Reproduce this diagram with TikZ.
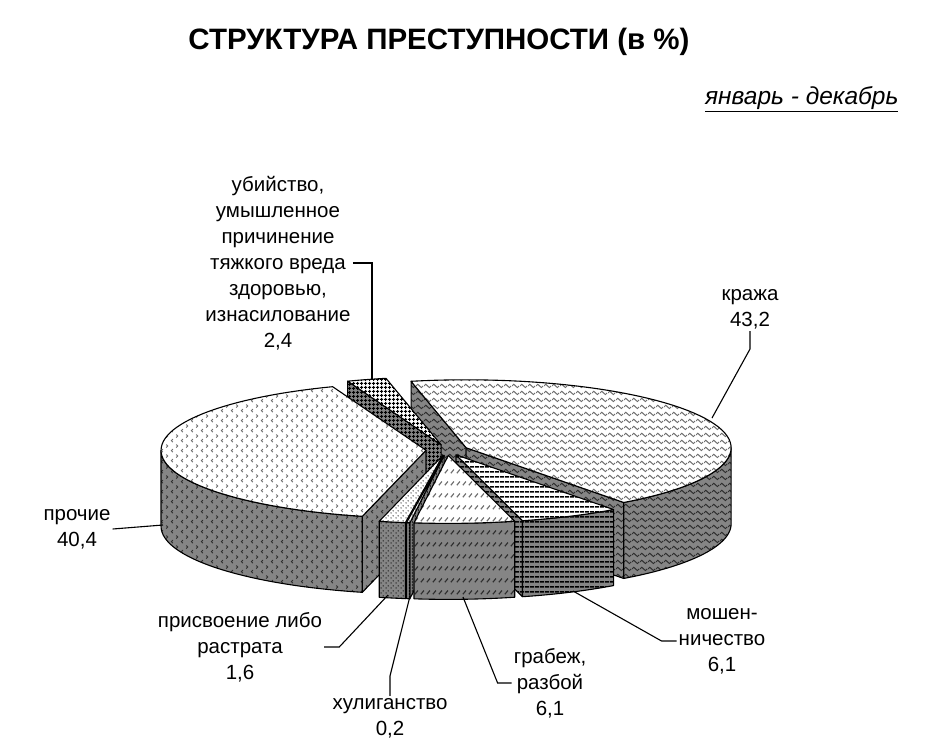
\documentclass[tikz,border=0pt]{standalone}
\usepackage{fontspec}
\setmainfont{Liberation Sans}
\usetikzlibrary{patterns.meta}

\definecolor{sidegray}{HTML}{858585}
\definecolor{patdark}{HTML}{2E2E2E}
\definecolor{patlight}{HTML}{6E6E6E}

\tikzdeclarepattern{
  name=pwave, type=uncolored,
  bounding box={(0pt,0pt) and (8pt,7pt)},
  tile size={(8pt,7pt)},
  code={\draw[line width=1.1pt] (0pt,3.5pt) .. controls (2pt,6pt) and (2pt,6pt) .. (4pt,3.5pt) .. controls (6pt,1pt) and (6pt,1pt) .. (8pt,3.5pt);}
}
\tikzdeclarepattern{
  name=pdivot, type=uncolored,
  bounding box={(0pt,0pt) and (10pt,10pt)},
  tile size={(10pt,10pt)},
  code={\draw[line width=1pt] (3.2pt,1pt) -- (1.5pt,2.6pt) -- (3.2pt,4.2pt);
        \draw[line width=1pt] (6.8pt,6pt) -- (8.5pt,7.6pt) -- (6.8pt,9.2pt);}
}
\tikzdeclarepattern{
  name=pdash, type=uncolored,
  bounding box={(0pt,0pt) and (6pt,12pt)},
  tile size={(6pt,12pt)},
  code={\draw[line width=1.3pt] (1pt,4pt) -- (4.5pt,8pt);}
}
\tikzdeclarepattern{
  name=phoriz, type=uncolored,
  bounding box={(0pt,0pt) and (5pt,5pt)},
  tile size={(5pt,5pt)},
  code={\draw[line width=1.6pt] (0pt,2.5pt) -- (5pt,2.5pt);}
}
\tikzdeclarepattern{
  name=pgrid, type=uncolored,
  bounding box={(0pt,0pt) and (4pt,4pt)},
  tile size={(4pt,4pt)},
  code={\draw[line width=1pt] (0pt,2pt) -- (4pt,2pt) (2pt,0pt) -- (2pt,4pt);}
}
\tikzdeclarepattern{
  name=pdots, type=uncolored,
  bounding box={(0pt,0pt) and (5pt,5pt)},
  tile size={(5pt,5pt)},
  code={\fill (1.25pt,1.25pt) circle (0.9pt) (3.75pt,3.75pt) circle (0.9pt);}
}
\tikzdeclarepattern{
  name=pvert, type=uncolored,
  bounding box={(0pt,0pt) and (3pt,3pt)},
  tile size={(3pt,3pt)},
  code={\draw[line width=1pt] (1.5pt,0pt) -- (1.5pt,3pt);}
}

\tikzset{
  edge/.style={draw=black, line width=1.1pt, line join=round},
  topK/.style={edge, preaction={fill=white}, pattern=pwave, pattern color=patlight},
  topM/.style={edge, preaction={fill=white}, pattern=phoriz, pattern color=black},
  topG/.style={edge, preaction={fill=white}, pattern=pdash, pattern color=patlight},
  topH/.style={edge, preaction={fill=white}, pattern=pvert, pattern color=patlight},
  topR/.style={edge, preaction={fill=white}, pattern=pdots, pattern color=patlight},
  topP/.style={edge, preaction={fill=white}, pattern=pdivot, pattern color=patlight},
  topU/.style={edge, preaction={fill=white}, pattern=pgrid, pattern color=black},
  sideK/.style={edge, preaction={fill=sidegray}, pattern=pwave, pattern color=patdark},
  sideM/.style={edge, preaction={fill=sidegray}, pattern=phoriz, pattern color=black},
  sideG/.style={edge, preaction={fill=sidegray}, pattern=pdash, pattern color=patdark},
  sideH/.style={edge, preaction={fill=sidegray}, pattern=pvert, pattern color=black},
  sideR/.style={edge, preaction={fill=sidegray}, pattern=pdots, pattern color=patdark},
  sideP/.style={edge, preaction={fill=sidegray}, pattern=pdivot, pattern color=patdark},
  sideU/.style={edge, preaction={fill=sidegray}, pattern=pgrid, pattern color=black},
  lbl/.style={align=center, font=\fontsize{20.5}{26}\selectfont, inner sep=2pt},
  leader/.style={draw=black, line width=1.1pt},
}

\newcommand\slc[2]{%
  \pgfmathsetmacro\pmd{(#1+#2)/2}%
  \pgfmathsetmacro\pox{\pcx+\pex*cos(\pmd)}%
  \pgfmathsetmacro\poy{\pcy-\pex*\pry/\prx*sin(\pmd)}%
}
\newcommand\topface[3]{%
  \slc{#1}{#2}%
  \path[#3] (\pox,\poy) -- plot[domain=#1:#2,samples=60] ({\pox+\prx*cos(\x)},{\poy-\pry*sin(\x)}) -- cycle;
}
\newcommand\outerside[5]{%
  \slc{#1}{#2}%
  \path[#5] plot[domain=#3:#4,samples=60] ({\pox+\prx*cos(\x)},{\poy-\pry*sin(\x)})
     -- plot[domain=#4:#3,samples=60] ({\pox+\prx*cos(\x)},{\poy+\ph-\pry*sin(\x)}) -- cycle;
}
\newcommand\radface[4]{%
  \slc{#1}{#2}%
  \path[#4] (\pox,\poy) -- ({\pox+\prx*cos(#3)},{\poy-\pry*sin(#3)})
     -- ({\pox+\prx*cos(#3)},{\poy+\ph-\pry*sin(#3)}) -- (\pox,{\poy+\ph}) -- cycle;
}

\begin{document}
\begin{tikzpicture}[x=1pt,y=-1pt]
\useasboundingbox[fill=white] (0,0) rectangle (929,753);
\def\pcx{447}\def\pcy{450}\def\prx{265}\def\pry{68}\def\ph{76}\def\pex{21}

% side faces, back to front
\radface{-53.52}{102}{102}{sideK}
\radface{-53.52}{102}{-53.52}{sideK}
\outerside{-53.52}{102}{-53.52}{0}{sideK}
\radface{102}{110.64}{110.64}{sideU}
\radface{110.64}{256.08}{256.08}{sideP}
\outerside{110.64}{256.08}{180}{256.08}{sideP}
\radface{-103.92}{-98.16}{-98.16}{sideR}
\outerside{-103.92}{-98.16}{-103.92}{-98.16}{sideR}
\radface{-98.16}{-97.44}{-97.44}{sideH}
\outerside{-98.16}{-97.44}{-98.16}{-97.44}{sideH}
\radface{-75.48}{-53.52}{-75.48}{sideM}
\outerside{-75.48}{-53.52}{-75.48}{-53.52}{sideM}
\outerside{-97.44}{-75.48}{-97.44}{-75.48}{sideG}

% top faces
\topface{-53.52}{102}{topK}
\topface{-75.48}{-53.52}{topM}
\topface{-97.44}{-75.48}{topG}
\topface{-98.16}{-97.44}{topH}
\topface{-103.92}{-98.16}{topR}
\topface{110.64}{256.08}{topP}
\topface{102}{110.64}{topU}

% titles
\node[font=\fontsize{29.5}{34}\selectfont\bfseries] (title) at (439,42) {СТРУКТУРА ПРЕСТУПНОСТИ (в \%)};
\node[font=\fontsize{24.5}{28}\selectfont\itshape, anchor=east] (period) at (902,99) {\underline{январь - декабрь}};

% labels
\node[lbl] (lub) at (278,263) {убийство,\\умышленное\\причинение\\тяжкого вреда\\здоровью,\\изнасилование\\2,4};
\node[lbl] (lkr) at (750,309) {кража\\43,2};
\node[lbl] (lpr) at (77,529) {прочие\\40,4};
\node[lbl] (lpc) at (240,647) {присвоение либо\\растрата\\1,6};
\node[lbl] (lhu) at (390,718) {хулиганство\\0,2};
\node[lbl] (lgr) at (550,683) {грабеж,\\разбой\\6,1};
\node[lbl] (lmo) at (722,641) {мошен-\\ничество\\6,1};

% anchor points on the pie
\coordinate (aub) at (372,379);
\coordinate (akr) at (712,418);
\coordinate (apr) at (163,525);
\coordinate (apc) at (388,595);
\coordinate (ahu) at (410,596);
\coordinate (agr) at (463,597);
\coordinate (amo) at (573,591);

% leader lines
\draw[leader] (lub.east) -| (aub);
\draw[leader] (lkr.south) -- ++(0,18) -- (akr);
\draw[leader] (lpr.east) -- (apr);
\draw[leader] (lpc.east) -- ++(15,0) -- (apc);
\draw[leader] (lhu.north) -- ++(0,-20) -- (ahu);
\draw[leader] (lgr.west) -- ++(-14,0) -- (agr);
\draw[leader] (lmo.west) -- ++(-15,0) -- (amo);
\end{tikzpicture}
\end{document}
